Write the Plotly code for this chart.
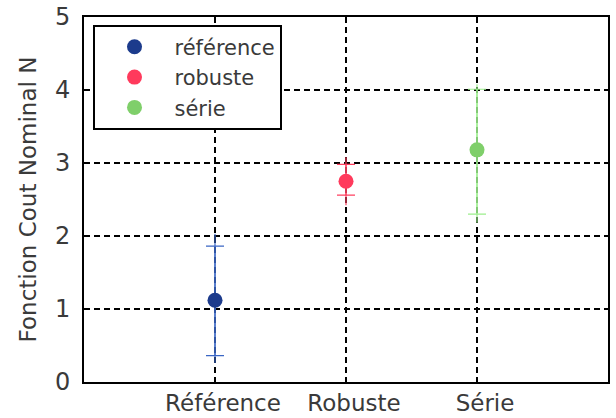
import plotly.graph_objects as go

# data
groups = ['Référence', 'Robuste', 'Série']
names = ['référence', 'robuste', 'série']
xpos = [1, 2, 3]
means = [1.12, 2.75, 3.18]
cap_hi = [1.86, 2.98, 4.01]
cap_lo = [0.36, 2.56, 2.30]
rng_hi = [2.03, 3.08, 4.08]
rng_lo = [0.26, 2.42, 2.18]

marker_colors = ['#1c3b8c', '#ff3a5c', '#7fcf6a']
line_colors = ['#3a66c4', '#ff4060', '#9cee8c']

fig = go.Figure()

for i in range(3):
    # full range line
    fig.add_trace(go.Scatter(
        x=[xpos[i], xpos[i]], y=[rng_lo[i], rng_hi[i]],
        mode='lines', line=dict(color=line_colors[i], width=1.2),
        showlegend=False, hoverinfo='skip'))
    # mean with caps
    fig.add_trace(go.Scatter(
        x=[xpos[i]], y=[means[i]], mode='markers', name=names[i],
        marker=dict(color=marker_colors[i], size=15, symbol='circle'),
        error_y=dict(type='data', symmetric=False,
                     array=[cap_hi[i] - means[i]],
                     arrayminus=[means[i] - cap_lo[i]],
                     color=line_colors[i], thickness=1.2, width=9)))

grid = dict(showgrid=True, gridcolor='black', griddash='6px,4px', gridwidth=1.5,
            zeroline=False, showline=True, linecolor='black', linewidth=1.6,
            mirror=True, ticks='', automargin=False, ticklabeloverflow='allow',
            tickfont=dict(size=24, color='#3a3a3a'))

fig.update_layout(
    width=616, height=418,
    margin=dict(l=84, r=8, t=17, b=36),
    plot_bgcolor='white', paper_bgcolor='white',
    font=dict(family='DejaVu Sans, sans-serif', color='#3a3a3a'),
    legend=dict(x=0.017, y=0.978, xanchor='left', yanchor='top',
                bordercolor='black', borderwidth=1.6, bgcolor='white',
                font=dict(size=21, color='#3a3a3a'),
                itemsizing='trace', itemwidth=70, tracegroupgap=0),
    xaxis=dict(range=[0, 4], tickvals=xpos, ticktext=groups,
               ticklabelshift=8, ticklabelstandoff=0, **grid),
    yaxis=dict(range=[0, 5], tickvals=[0, 1, 2, 3, 4, 5], ticklabelstandoff=7,
               title=dict(text='Fonction Cout Nominal N',
                          font=dict(size=23, color='#3a3a3a'), standoff=12),
               **grid),
)
fig.update_xaxes(tickfont=dict(size=23))

# drop the default 8px body margin so the figure fills the window
fig.write_html("out.html", config={'displayModeBar': False},
               post_script="document.body.style.margin='0';")
